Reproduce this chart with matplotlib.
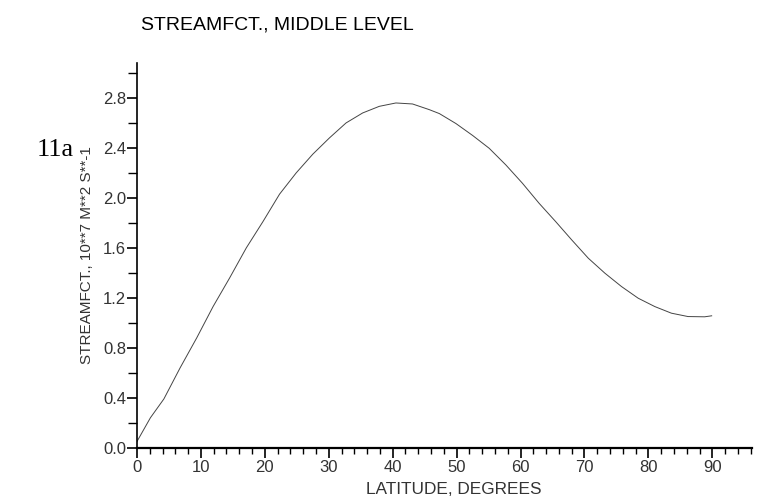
import numpy as np
import matplotlib
matplotlib.use("Agg")
import matplotlib.pyplot as plt
from matplotlib.ticker import MultipleLocator

plt.rcParams['font.family'] = ['Liberation Sans', 'DejaVu Sans']

# valores
latitud = [0, 2.1, 4.2, 6.75, 9.35, 11.9, 14.5, 17.1, 19.7, 22.3, 24.9, 27.5,
           30.1, 32.7, 35.3, 37.9, 40.5, 43.1, 45.7, 47.3, 49.9, 52.5, 55.1,
           57.7, 60.3, 62.9, 65.5, 68.0, 70.6, 73.2, 75.8, 78.4, 81.0, 83.6,
           86.2, 88.8, 89.9]
funcion_corriente = [0.05, 0.24, 0.39, 0.64, 0.88, 1.13, 1.36, 1.60, 1.81,
                     2.03, 2.20, 2.35, 2.48, 2.60, 2.68, 2.733, 2.76, 2.752,
                     2.707, 2.675, 2.595, 2.50, 2.397, 2.264, 2.117, 1.957,
                     1.81, 1.664, 1.517, 1.397, 1.29, 1.197, 1.13, 1.077, 1.05,
                     1.048, 1.056]

etiquetas_x = [0, 10, 20, 30, 40, 50, 60, 70, 80, 90]
etiquetas_y = [0.0, 0.4, 0.8, 1.2, 1.6, 2.0, 2.4, 2.8]

fig = plt.figure(figsize=(7.62, 5.0), dpi=100)
ax = fig.add_axes([0.1798, 0.1046, 0.807, 0.7694])

ax.plot(latitud, funcion_corriente, color='#444444', lw=0.7)

ax.set_xlim(0, 96.2)
ax.set_ylim(0, 3.08)
ax.spines['top'].set_visible(False)
ax.spines['right'].set_visible(False)
ax.spines['left'].set_linewidth(1.2)
ax.spines['bottom'].set_linewidth(1.6)

ax.set_xticks(etiquetas_x)
ax.set_xticklabels([str(v) for v in etiquetas_x])
ax.xaxis.set_minor_locator(MultipleLocator(2))
ax.set_yticks(etiquetas_y)
ax.set_yticklabels(['%.1f' % v for v in etiquetas_y])
ax.yaxis.set_minor_locator(MultipleLocator(0.2))

ax.tick_params(axis='x', which='major', direction='out', length=7.5, width=1.2,
               labelsize=12, pad=1, labelcolor='#333333')
ax.tick_params(axis='x', which='minor', direction='out', length=4.5, width=1.0)
ax.tick_params(axis='y', which='major', direction='out', length=7, width=1.2,
               labelsize=12, pad=1, labelcolor='#333333')
ax.tick_params(axis='y', which='minor', direction='out', length=6.5, width=1.0)

fig.text(0.595, 0.022, 'LATITUDE, DEGREES', fontsize=12.4, ha='center',
         va='center', color='#333333')
fig.text(0.114, 0.49, 'STREAMFCT., 10**7 M**2 S**-1', fontsize=11,
         rotation=90, ha='center', va='center', color='#333333')
fig.text(0.364, 0.95, 'STREAMFCT., MIDDLE LEVEL', fontsize=14, ha='center',
         va='center', color='black')
fig.text(0.073, 0.70, '11a', fontsize=19, family=['Liberation Serif'],
         ha='center', va='center', color='black')

fig.savefig('out.png', dpi=100)
